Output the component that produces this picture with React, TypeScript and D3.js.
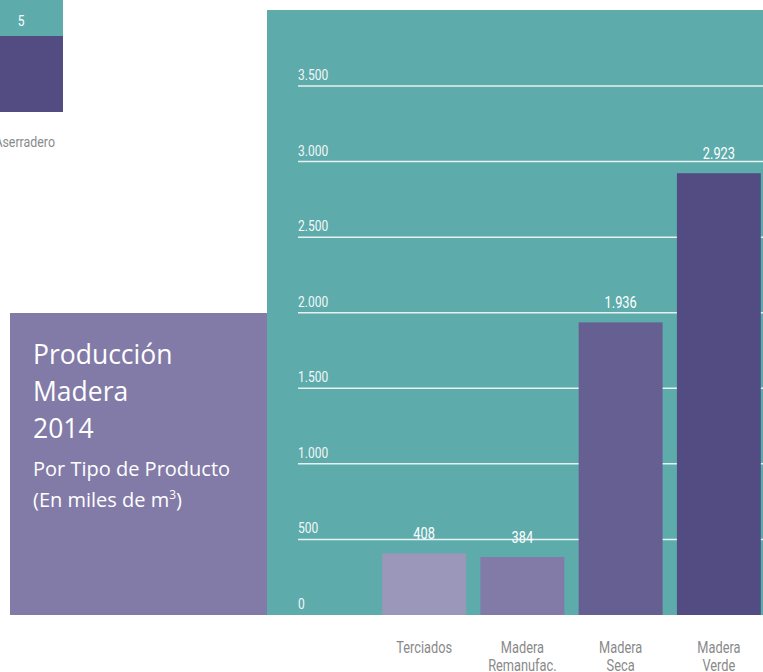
import React from 'react';
import { scaleBand, scaleLinear } from 'd3';

const categories = ['Terciados', 'Madera\nRemanufac.', 'Madera\nSeca', 'Madera\nVerde'];
const values = [408, 384, 1936, 2923];
const barColors = ['#9b97ba', '#827ba7', '#655f92', '#524c83'];
const ticks = [0, 500, 1000, 1500, 2000, 2500, 3000, 3500];

const W = 763;
const H = 672;
const teal = '#5eabac';
const fmt = (v: number) => v.toLocaleString('de-DE');

// no condensed font installed, so squeeze Roboto horizontally
const Narrow = ({ x, y, size, fill, anchor = 'start', children }: any) => (
  <text
    transform={`translate(${x},${y}) scale(0.8,1)`}
    fill={fill}
    fontFamily="Roboto, sans-serif"
    fontSize={size}
    textAnchor={anchor}
  >
    {children}
  </text>
);

const App = () => {
  const y = scaleLinear().domain([0, 3500]).range([615, 86]);
  const x = scaleBand<string>()
    .domain(categories)
    .range([375, 768])
    .paddingInner(0.146)
    .paddingOuter(0.073);
  const cx = (c: string) => (x(c) as number) + x.bandwidth() / 2;

  return (
    <svg
      width={W}
      height={H}
      style={{ position: 'absolute', left: 0, top: 0, background: '#fff' }}
    >
      {/* bit of the neighbouring chart, cut off on the left */}
      <rect x={0} y={0} width={63} height={36} fill={teal} />
      <Narrow x={21} y={26} size={15} fill="#fff" anchor="middle">5</Narrow>
      <rect x={0} y={36} width={63} height={76} fill="#524c83" />
      <Narrow x={55} y={147} size={15.5} fill="#8a8a8a" anchor="end">Aserradero</Narrow>

      {/* chart panel */}
      <rect x={267} y={10} width={W - 267} height={615 - 10} fill={teal} />

      {ticks.map((t) => (
        <g key={t}>
          {t > 0 && (
            <line x1={298} x2={W} y1={y(t)} y2={y(t)} stroke="#e6f1f1" strokeWidth={1.5} />
          )}
          <Narrow x={298} y={y(t) - 6} size={15} fill="#f2f8f8">{fmt(t)}</Narrow>
        </g>
      ))}

      {categories.map((c, i) => (
        <g key={c}>
          <rect
            x={x(c)}
            y={y(values[i])}
            width={x.bandwidth()}
            height={y(0) - y(values[i])}
            fill={barColors[i]}
          />
          <Narrow x={cx(c)} y={y(values[i]) - 14} size={16} fill="#fff" anchor="middle">
            {fmt(values[i])}
          </Narrow>
          {c.split('\n').map((line, j) => (
            <Narrow key={j} x={cx(c)} y={653 + j * 18} size={16} fill="#8a8a8a" anchor="middle">
              {line}
            </Narrow>
          ))}
        </g>
      ))}

      {/* title box */}
      <rect x={10} y={313} width={257} height={302} fill="#827ba7" />
      <g fill="#fff" fontFamily='"Open Sans", "DejaVu Sans", sans-serif'>
        <text x={33} y={364} fontSize={26.5}>Producción</text>
        <text x={33} y={401} fontSize={26.5}>Madera</text>
        <text x={33} y={438} fontSize={26.5}>2014</text>
        <text x={33} y={476} fontSize={20}>Por Tipo de Producto</text>
        <text x={33} y={507} fontSize={20}>
          (En miles de m
          <tspan fontSize={12} dy={-8}>3</tspan>
          <tspan dy={8}>)</tspan>
        </text>
      </g>
    </svg>
  );
};

export default App;
